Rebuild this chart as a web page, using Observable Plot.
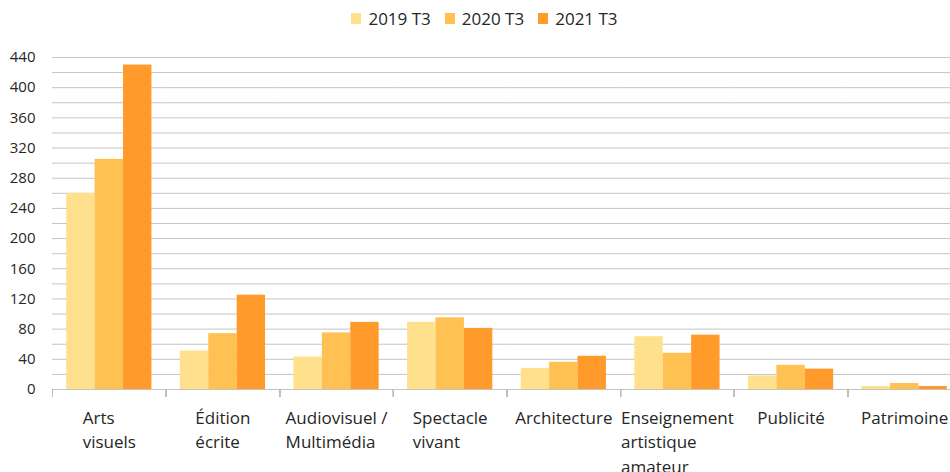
<!DOCTYPE html>
<html>
<head>
<meta charset="utf-8">
<script src="https://cdn.jsdelivr.net/npm/d3@7"></script>
<script src="https://cdn.jsdelivr.net/npm/@observablehq/plot@0.6"></script>
<style>
  html, body { margin: 0; padding: 0; background: #fff; overflow: hidden; }
  #wrap { position: relative; width: 950px; height: 472px; }
  #legend { position: absolute; top: 0; left: 0; width: 969px; height: 36px;
    display: flex; justify-content: center; align-items: center;
    font-family: "Open Sans", sans-serif; font-size: 17px; color: #262626; }
  .item { display: flex; align-items: center; margin: 0 7px; }
  .sw { width: 10px; height: 11px; margin-right: 7px; margin-top: 1px; }
</style>
</head>
<body>
<div id="wrap">
  <div id="chart"></div>
  <div id="legend"></div>
</div>
<script>
const categories = ["Arts visuels", "Édition écrite", "Audiovisuel / Multimédia", "Spectacle vivant", "Architecture", "Enseignement artistique amateur", "Publicité", "Patrimoine"];
const tickLabels = ["Arts\nvisuels", "Édition\nécrite", "Audiovisuel /\nMultimédia", "Spectacle\nvivant", "Architecture", "Enseignement\nartistique\namateur", "Publicité", "Patrimoine"];
const series = ["2019 T3", "2020 T3", "2021 T3"];
const v2019 = [260, 51, 43, 89, 28, 70, 18, 4];
const v2020 = [305, 74, 75, 95, 36, 48, 32, 8];
const v2021 = [430, 125, 89, 81, 44, 72, 27, 4];
const colors = ["#FFE08D", "#FFC152", "#FF9A2B"];
const yTicks = d3.range(0, 441, 40);
const gridValues = d3.range(0, 441, 20);

const seriesValues = [v2019, v2020, v2021];
const table = [];
categories.forEach((c, i) => series.forEach((s, j) => table.push({category: c, series: s, value: seriesValues[j][i]})));

const xFont = 17, yFont = 15;
const ctx = document.createElement("canvas").getContext("2d");
ctx.font = `${xFont}px "Open Sans"`;
const fxRange = [52, 961];
const step = (fxRange[1] - fxRange[0]) / categories.length;

const labelMarks = categories.map((c, i) => {
  const lines = tickLabels[i].split("\n");
  const w = d3.max(lines, l => ctx.measureText(l).width);
  return Plot.text([{category: c, label: tickLabels[i]}], {
    fx: "category", text: "label", frameAnchor: "bottom", textAnchor: "start",
    lineAnchor: "top", lineHeight: 1.435, dx: -w / 2, dy: 17.2, fill: "#262626", fontSize: xFont
  });
});

const chart = Plot.plot({
  width: 950, height: 472,
  marginTop: 57, marginBottom: 83, marginLeft: 52, marginRight: 0,
  style: {fontFamily: "Open Sans", fontSize: xFont + "px", color: "#262626", background: "white"},
  fx: {domain: categories, range: fxRange, padding: 0, round: false, axis: null, label: null},
  x: {domain: series, paddingInner: 0, paddingOuter: 0.5, round: false, axis: null},
  y: {domain: [0, 440], axis: null},
  color: {domain: series, range: colors},
  marks: [
    Plot.ruleY(gridValues, {stroke: "#c4c4c4", strokeWidth: 1}),
    Plot.barY(table, {fx: "category", x: "series", y: "value", fill: "series"}),
    Plot.axisY(yTicks, {tickSize: 0, tickPadding: 17, label: null, fontSize: yFont, fill: "#262626"}),
    Plot.axisFx(categories, {anchor: "bottom", tickSize: 8, tickFormat: () => "", dx: -step / 2, stroke: "#bdbdbd", label: null}),
    ...labelMarks
  ]
});
document.getElementById("chart").appendChild(chart);

const legend = d3.select("#legend");
series.forEach((s, j) => {
  const it = legend.append("div").attr("class", "item");
  it.append("div").attr("class", "sw").style("background", colors[j]);
  it.append("span").text(s);
});
</script>
</body>
</html>
